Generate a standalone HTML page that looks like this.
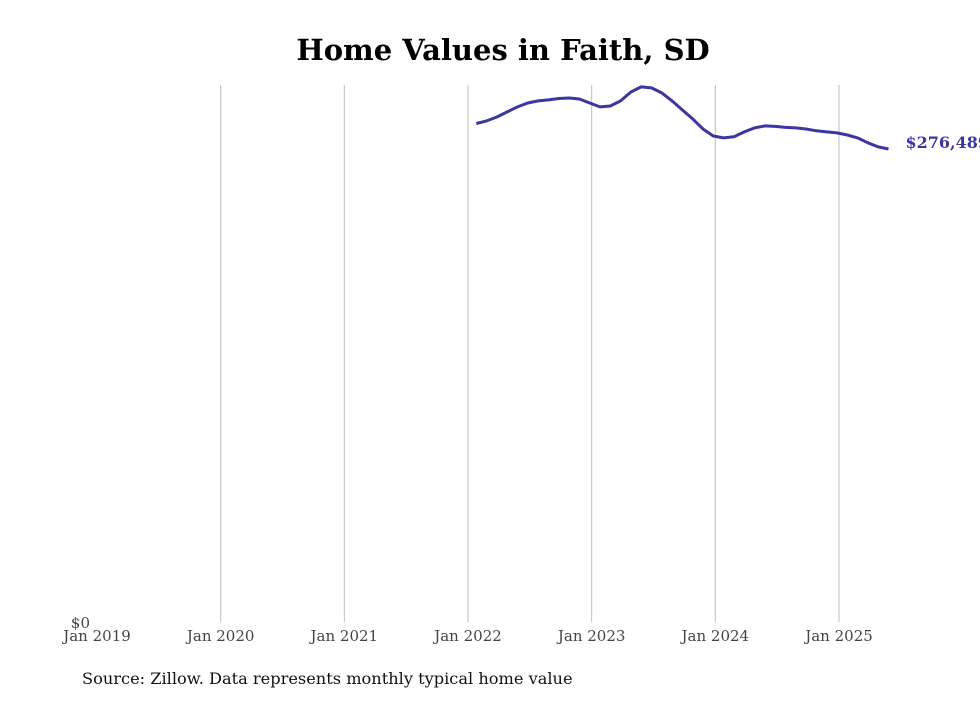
<!DOCTYPE html>
<html><head><meta charset="utf-8"><style>
body{margin:0;background:#fff;width:980px;height:699px;overflow:hidden;font-family:"DejaVu Serif","Liberation Serif",serif}
</style></head><body>
<svg id="chart" width="980" height="699" xmlns="http://www.w3.org/2000/svg">
<text x="503" y="60" text-anchor="middle" font-size="29" font-weight="bold" fill="#000">Home Values in Faith, SD</text>
<g id="grid"></g><g id="xticks"></g>
<text x="90" y="628" text-anchor="end" font-size="15" fill="#444">$0</text>
<path id="line" fill="none" stroke="#3b36a0" stroke-width="3" stroke-linejoin="round"/>
<text id="endlabel" font-size="16" font-weight="bold" fill="#3b36a0"></text>
<text x="82" y="684" font-size="16.2" fill="#111">Source: Zillow. Data represents monthly typical home value</text>
</svg>
<script>
const tickLabels=["Jan 2019","Jan 2020","Jan 2021","Jan 2022","Jan 2023","Jan 2024","Jan 2025"];
const startMonth=37; // months since Jan 2019 (Feb 2022)
const values=[291400,292900,295200,298200,301100,303400,304600,305200,306000,306300,305700,303400,301100,301600,304600,309800,312800,312200,309300,304600,299300,294100,288200,284100,283000,283600,286500,288800,290000,289700,289100,288800,288200,287100,286500,285900,284700,283000,280100,277700,276489];
const NS="http://www.w3.org/2000/svg";
const x=m=>97+m*(742/72);
const y=v=>622-v*(537/313900);
const grid=document.getElementById('grid'),xt=document.getElementById('xticks');
tickLabels.forEach((t,i)=>{
  const px=x(i*12);
  if(i>0){const l=document.createElementNS(NS,'line');
  
  
  l.setAttribute('x1',px);l.setAttribute('x2',px);l.setAttribute('y1',85);l.setAttribute('y2',622);
  l.setAttribute('stroke','#bdbdbd');l.setAttribute('stroke-width','1');grid.appendChild(l);}
  const tx=document.createElementNS(NS,'text');
  
  
  tx.setAttribute('x',px);tx.setAttribute('y',641);tx.setAttribute('text-anchor','middle');
  tx.setAttribute('font-size','15');tx.setAttribute('fill','#444');tx.textContent=t;xt.appendChild(tx);
});
document.getElementById('line').setAttribute('d',values.map((v,i)=>(i?'L':'M')+(x(startMonth+i)-2).toFixed(1)+','+y(v).toFixed(1)).join(''));
const last=values[values.length-1],el=document.getElementById('endlabel');
el.setAttribute('x',x(startMonth+values.length-1)+15);el.setAttribute('y',y(last)+-1);
el.textContent='$'+last.toLocaleString('en-US');
</script>
</body></html>
